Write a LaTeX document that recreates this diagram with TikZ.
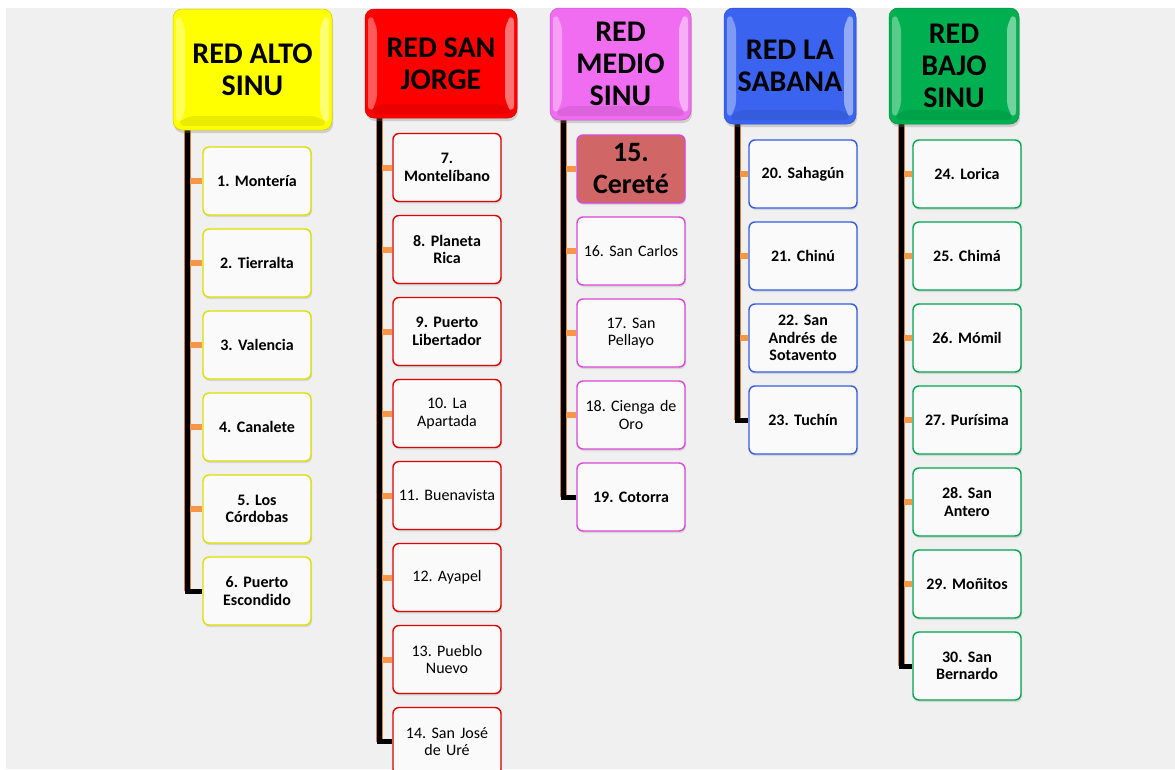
\documentclass[tikz,border=0pt]{standalone}
\usepackage{fontspec}
\setmainfont{Carlito}
\usetikzlibrary{shadows}
\pgfdeclarelayer{bg}
\pgfsetlayers{bg,main}
\definecolor{ylw}{RGB}{255,255,0}
\definecolor{ylwB}{RGB}{222,222,0}
\definecolor{rd}{RGB}{255,0,0}
\definecolor{rdB}{RGB}{225,0,0}
\definecolor{mg}{RGB}{240,108,240}
\definecolor{mgB}{RGB}{218,72,218}
\definecolor{bl}{RGB}{58,100,240}
\definecolor{blB}{RGB}{52,92,225}
\definecolor{gr}{RGB}{0,176,80}
\definecolor{grB}{RGB}{0,165,80}
\definecolor{stubc}{RGB}{247,150,70}
\definecolor{bggray}{RGB}{240,240,240}
\definecolor{cerete}{RGB}{208,102,102}
\tikzset{
  header/.style={rounded corners=9pt, draw=#1!80!black, line width=0.5pt,
    fill=#1, align=center, inner sep=0pt,
    font=\fontsize{30}{32}\selectfont\bfseries,
    drop shadow={opacity=0.3, shadow xshift=1pt, shadow yshift=-3pt},
    path picture={
      \fill[white,opacity=0.35]
        ([xshift=3pt,yshift=-4pt]path picture bounding box.north west) --
        ([xshift=12pt,yshift=-14pt]path picture bounding box.north west) --
        ([xshift=12pt,yshift=14pt]path picture bounding box.south west) --
        ([xshift=3pt,yshift=4pt]path picture bounding box.south west) -- cycle;
      \fill[white,opacity=0.45]
        ([xshift=-3pt,yshift=-4pt]path picture bounding box.north east) --
        ([xshift=-12pt,yshift=-14pt]path picture bounding box.north east) --
        ([xshift=-12pt,yshift=14pt]path picture bounding box.south east) --
        ([xshift=-3pt,yshift=4pt]path picture bounding box.south east) -- cycle;
      \fill[black,opacity=0.08]
        ([xshift=3pt,yshift=4pt]path picture bounding box.south west) --
        ([xshift=12pt,yshift=14pt]path picture bounding box.south west) --
        ([xshift=-12pt,yshift=14pt]path picture bounding box.south east) --
        ([xshift=-3pt,yshift=4pt]path picture bounding box.south east) -- cycle;
    }},
  leaf/.style={rounded corners=6pt, draw=#1, line width=1.4pt,
    fill=white!98!black, minimum width=108pt, minimum height=68pt,
    text width=104pt, align=center, inner sep=0pt,
    font=\fontsize{16}{17.5}\selectfont\bfseries,
    drop shadow={opacity=0.22, shadow xshift=1pt, shadow yshift=-2pt}},
  lt/.style={font=\fontsize{16}{17.5}\selectfont},
  trunkedge/.style={draw=stubc!85!black, line width=7pt},
  trunk/.style={draw=black, line width=5pt},
  stub/.style={draw=stubc, line width=6pt}
}
\frenchspacing
\begin{document}
\begin{tikzpicture}[x=1pt,y=-1pt]
\useasboundingbox (0,0) rectangle (1175,769);
% headers
\node[header=ylw, minimum width=159pt, minimum height=121pt] (hA) at (252.5,69.5) {RED ALTO\\SINU};
\node[header=rd, minimum width=152pt, minimum height=109pt] (hB) at (441,63.5) {RED SAN\\JORGE};
\node[header=mg, minimum width=141pt, minimum height=112pt] (hC) at (620.5,64) {RED\\MEDIO\\SINU};
\node[header=bl, minimum width=132pt, minimum height=116pt] (hD) at (790,66) {RED LA\\SABANA};
\node[header=gr, minimum width=130pt, minimum height=116pt] (hE) at (954,66) {RED\\BAJO\\SINU};
% Alto Sinu
\node[leaf=ylwB] (a1) at (257,181) {1. Montería};
\node[leaf=ylwB] (a2) at (257,263) {2. Tierralta};
\node[leaf=ylwB] (a3) at (257,345) {3. Valencia};
\node[leaf=ylwB] (a4) at (257,427) {4. Canalete};
\node[leaf=ylwB] (a5) at (257,509) {5. Los\\Córdobas};
\node[leaf=ylwB] (a6) at (257,591) {6. Puerto\\Escondido};
% San Jorge
\node[leaf=rdB] (b1) at (447,167.5) {7.\\Montelíbano};
\node[leaf=rdB] (b2) at (447,249.5) {8. Planeta\\Rica};
\node[leaf=rdB] (b3) at (447,331.5) {9. Puerto\\Libertador};
\node[leaf=rdB,lt] (b4) at (447,413.5) {10. La\\Apartada};
\node[leaf=rdB,lt] (b5) at (447,495.5) {11. Buenavista};
\node[leaf=rdB,lt] (b6) at (447,577.5) {12. Ayapel};
\node[leaf=rdB,lt] (b7) at (447,659.5) {13. Pueblo\\Nuevo};
\node[leaf=rdB,lt] (b8) at (447,741.5) {14. San José\\de Uré};
% Medio Sinu
\node[leaf=mgB, fill=cerete, font=\fontsize{28}{32}\selectfont\bfseries] (c1) at (631,169) {15.\\Cereté};
\node[leaf=mgB,lt] (c2) at (631,251) {16. San Carlos};
\node[leaf=mgB,lt] (c3) at (631,333) {17. San\\Pellayo};
\node[leaf=mgB,lt] (c4) at (631,415) {18. Cienga de\\Oro};
\node[leaf=mgB] (c5) at (631,497) {19. Cotorra};
% La Sabana
\node[leaf=blB] (d1) at (803,174) {20. Sahagún};
\node[leaf=blB] (d2) at (803,256) {21. Chinú};
\node[leaf=blB] (d3) at (803,338) {22. San\\Andrés de\\Sotavento};
\node[leaf=blB] (d4) at (803,420) {23. Tuchín};
% Bajo Sinu
\node[leaf=grB] (e1) at (967,174) {24. Lorica};
\node[leaf=grB] (e2) at (967,256) {25. Chimá};
\node[leaf=grB] (e3) at (967,338) {26. Mómil};
\node[leaf=grB] (e4) at (967,420) {27. Purísima};
\node[leaf=grB] (e5) at (967,502) {28. San\\Antero};
\node[leaf=grB] (e6) at (967,584) {29. Moñitos};
\node[leaf=grB] (e7) at (967,666) {30. San\\Bernardo};
% trunk tops
\coordinate (tA) at (hA.south -| 187,0);
\coordinate (tB) at (hB.south -| 379,0);
\coordinate (tC) at (hC.south -| 563,0);
\coordinate (tD) at (hD.south -| 737,0);
\coordinate (tE) at (hE.south -| 901,0);
\begin{pgfonlayer}{bg}
\fill[white] (0,0) rectangle (1175,769);
\fill[bggray] (6,8) rectangle (1175,769);
% Alto
\draw[trunkedge] (tA) -- (tA |- a6.west);
\foreach \c in {a1,a2,a3,a4,a5} \draw[stub] (tA |- \c.west) -- (\c.west);
\draw[trunk] (tA) |- (a6.west);
% San Jorge
\draw[trunkedge] (tB) -- (tB |- b8.west);
\foreach \c in {b1,b2,b3,b4,b5,b6,b7} \draw[stub] (tB |- \c.west) -- (\c.west);
\draw[trunk] (tB) |- (b8.west);
% Medio
\draw[trunkedge] (tC) -- (tC |- c5.west);
\foreach \c in {c1,c2,c3,c4} \draw[stub] (tC |- \c.west) -- (\c.west);
\draw[trunk] (tC) |- (c5.west);
% Sabana
\draw[trunkedge] (tD) -- (tD |- d4.west);
\foreach \c in {d1,d2,d3} \draw[stub] (tD |- \c.west) -- (\c.west);
\draw[trunk] (tD) |- (d4.west);
% Bajo
\draw[trunkedge] (tE) -- (tE |- e7.west);
\foreach \c in {e1,e2,e3,e4,e5,e6} \draw[stub] (tE |- \c.west) -- (\c.west);
\draw[trunk] (tE) |- (e7.west);
\end{pgfonlayer}
\end{tikzpicture}
\end{document}
